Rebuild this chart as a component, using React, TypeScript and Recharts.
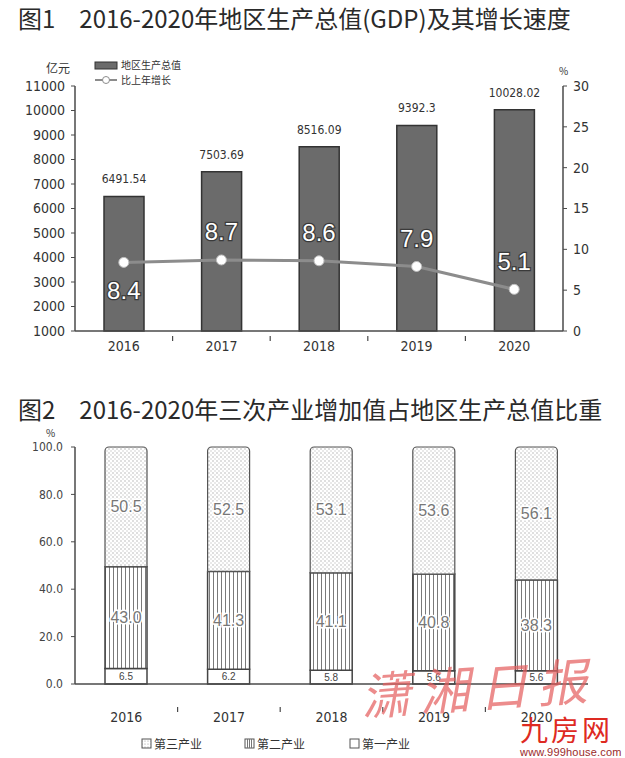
import React from "react";
import {
  ComposedChart,
  BarChart,
  Bar,
  Line,
  XAxis,
  YAxis,
  LabelList,
} from "recharts";

// 图1 data
const years = ["2016", "2017", "2018", "2019", "2020"];
const gdpValues = [6491.54, 7503.69, 8516.09, 9392.3, 10028.02];
const gdpLabels = ["6491.54", "7503.69", "8516.09", "9392.3", "10028.02"];
const growthRates = [8.4, 8.7, 8.6, 7.9, 5.1];
const gdpTicks = [1000, 2000, 3000, 4000, 5000, 6000, 7000, 8000, 9000, 10000, 11000];
const growthTicks = [0, 5, 10, 15, 20, 25, 30];

// 图2 data
const tertiaryShare = [50.5, 52.5, 53.1, 53.6, 56.1];
const secondaryShare = [43.0, 41.3, 41.1, 40.8, 38.3];
const primaryShare = [6.5, 6.2, 5.8, 5.6, 5.6];
const shareTicks = [0, 20, 40, 60, 80, 100];

const gdpData = years.map((y, i) => ({
  year: y,
  gdp: gdpValues[i],
  gdpLabel: gdpLabels[i],
  growth: growthRates[i],
}));

const shareData = years.map((y, i) => ({
  year: y,
  primary: primaryShare[i],
  secondary: secondaryShare[i],
  tertiary: tertiaryShare[i],
}));

const NUM_FONT = "'DejaVu Sans Condensed', 'DejaVu Sans', sans-serif";
const CJK_FONT = "'Noto Sans CJK SC', sans-serif";
const AXIS = "#4a4a4a";

// category label plus a small upward tick at the left band boundary
function YearTick(props: any) {
  const { x, y, payload, index, tickMargin } = props;
  const axisY = y - (tickMargin || 0);
  const half = payload && payload.offset ? payload.offset : 0;
  return (
    <g>
      {index > 0 && half > 0 && (
        <line x1={x - half} x2={x - half} y1={axisY} y2={axisY - 5} stroke={AXIS} strokeWidth={1.2} />
      )}
      <text
        x={x}
        y={y}
        dy="0.71em"
        textAnchor="middle"
        fontSize={14}
        fontFamily={NUM_FONT}
        fill="#333"
      >
        {payload.value}
      </text>
    </g>
  );
}

function GrowthLabel(props: any) {
  const { x, y, value, index } = props;
  const dy = index === 0 ? 28 : -28;
  return (
    <text
      x={x}
      y={y + dy}
      textAnchor="middle"
      dominantBaseline="central"
      fontSize={24}
      fontFamily="'Liberation Sans', Arial, sans-serif"
      fill="#ffffff"
      stroke="#3a3a3a"
      strokeWidth={2.5}
      paintOrder="stroke"
    >
      {Number(value).toFixed(1)}
    </text>
  );
}

function ShareLabel(props: any) {
  const { x, y, width, height, value, small } = props;
  return (
    <text
      x={x + width / 2}
      y={y + height / 2}
      textAnchor="middle"
      dominantBaseline="central"
      fontSize={small ? 10 : 16}
      fontFamily="'Liberation Sans', Arial, sans-serif"
      fill={small ? "#444" : "#777"}
      stroke="#fff"
      strokeWidth={small ? 2 : 3}
      paintOrder="stroke"
    >
      {Number(value).toFixed(1)}
    </text>
  );
}

function GdpChart() {
  return (
    <div style={{ position: "absolute", left: 0, top: 0 }}>
      <ComposedChart
        width={625}
        height={365}
        data={gdpData}
        margin={{ top: 86, right: 0, bottom: 4, left: 0 }}
      >
        <XAxis
          dataKey="year"
          height={30}
          tickSize={0}
          tickMargin={10}
          tick={<YearTick />}
          axisLine={{ stroke: AXIS, strokeWidth: 1.5 }}
          tickLine={false}
        />
        <YAxis
          yAxisId="left"
          width={75}
          domain={[1000, 11000]}
          ticks={gdpTicks}
          interval={0}
          tickSize={4}
          tickMargin={6}
          axisLine={{ stroke: AXIS, strokeWidth: 1.5 }}
          tickLine={{ stroke: AXIS }}
          tick={{ fontSize: 14, fontFamily: NUM_FONT, fill: "#333" }}
        />
        <YAxis
          yAxisId="right"
          orientation="right"
          width={62}
          domain={[0, 30]}
          ticks={growthTicks}
          interval={0}
          tickSize={4}
          tickMargin={6}
          axisLine={{ stroke: AXIS, strokeWidth: 1.5 }}
          tickLine={{ stroke: AXIS }}
          tick={{ fontSize: 14, fontFamily: NUM_FONT, fill: "#333" }}
        />
        <Bar
          yAxisId="left"
          dataKey="gdp"
          barSize={40}
          fill="#6b6b6b"
          stroke="#333"
          strokeWidth={1.5}
          isAnimationActive={false}
        >
          <LabelList
            dataKey="gdpLabel"
            position="top"
            offset={13}
            style={{ fontSize: 12, fontFamily: NUM_FONT, fill: "#333" }}
          />
        </Bar>
        <Line
          yAxisId="right"
          dataKey="growth"
          stroke="#8c8c8c"
          strokeWidth={3}
          dot={{ r: 5, fill: "#ffffff", stroke: "#bdbdbd", strokeWidth: 1 }}
          activeDot={false}
          isAnimationActive={false}
        >
          <LabelList dataKey="growth" content={<GrowthLabel />} />
        </Line>
      </ComposedChart>
    </div>
  );
}

function ShareChart() {
  return (
    <div style={{ position: "absolute", left: 0, top: 400 }}>
      <BarChart
        width={625}
        height={324}
        data={shareData}
        margin={{ top: 47, right: 37, bottom: 0, left: 0 }}
      >
        <defs>
          <pattern id="dotFill" width="4" height="4" patternUnits="userSpaceOnUse">
            <rect width="4" height="4" fill="#ffffff" />
            <circle cx="1" cy="1" r="0.7" fill="#a8a8a8" />
            <circle cx="3" cy="3" r="0.7" fill="#c4c4c4" />
          </pattern>
          <pattern id="stripeFill" width="4" height="4" patternUnits="userSpaceOnUse">
            <rect width="4" height="4" fill="#ffffff" />
            <line x1="1.5" y1="0" x2="1.5" y2="4" stroke="#7a7a7a" strokeWidth="1" />
          </pattern>
        </defs>
        <XAxis
          dataKey="year"
          height={40}
          tickSize={0}
          tickMargin={28}
          tick={<YearTick />}
          axisLine={{ stroke: AXIS, strokeWidth: 1.5 }}
          tickLine={false}
        />
        <YAxis
          width={75}
          domain={[0, 100]}
          ticks={shareTicks}
          interval={0}
          tickSize={4}
          tickMargin={8}
          axisLine={{ stroke: AXIS, strokeWidth: 1.5 }}
          tickLine={{ stroke: AXIS }}
          tickFormatter={(v: number) => v.toFixed(1)}
          tick={{ fontSize: 12, fontFamily: NUM_FONT, fill: "#444" }}
        />
        <Bar
          dataKey="primary"
          stackId="s"
          barSize={42}
          fill="#ffffff"
          stroke="#444"
          strokeWidth={1.5}
          isAnimationActive={false}
        >
          <LabelList dataKey="primary" content={<ShareLabel small />} />
        </Bar>
        <Bar
          dataKey="secondary"
          stackId="s"
          barSize={42}
          fill="url(#stripeFill)"
          stroke="#444"
          strokeWidth={1.5}
          isAnimationActive={false}
        >
          <LabelList dataKey="secondary" content={<ShareLabel />} />
        </Bar>
        <Bar
          dataKey="tertiary"
          stackId="s"
          barSize={42}
          fill="url(#dotFill)"
          stroke="#555"
          strokeWidth={1.2}
          radius={[4, 4, 0, 0]}
          isAnimationActive={false}
        >
          <LabelList dataKey="tertiary" content={<ShareLabel />} />
        </Bar>
      </BarChart>
    </div>
  );
}

const smallCjk: React.CSSProperties = {
  position: "absolute",
  fontFamily: CJK_FONT,
  color: "#333",
  whiteSpace: "nowrap",
  lineHeight: 1,
};

export default function App() {
  return (
    <div
      style={{
        position: "absolute",
        left: 0,
        top: 0,
        width: 625,
        height: 758,
        background: "#ffffff",
        overflow: "hidden",
      }}
    >
      <div
        style={{
          ...smallCjk,
          left: 18,
          top: 6,
          fontSize: 24,
          fontWeight: 400,
          color: "#2a2a2a",
        }}
      >
        图1　2016-2020年地区生产总值(GDP)及其增长速度
      </div>
      <div style={{ ...smallCjk, left: 46, top: 62, fontSize: 12 }}>亿元</div>
      <div style={{ ...smallCjk, left: 559, top: 66, fontSize: 10 }}>%</div>

      {/* legend of 图1 */}
      <div style={{ position: "absolute", left: 94, top: 58 }}>
        <svg width={26} height={30} style={{ position: "absolute", left: 0, top: 0 }}>
          <rect x={1} y={4} width={22} height={7} fill="#6b6b6b" stroke="#333" strokeWidth={1} />
          <line x1={1} x2={23} y1={22} y2={22} stroke="#8c8c8c" strokeWidth={2} />
          <circle cx={12} cy={22} r={3.5} fill="#fff" stroke="#8c8c8c" strokeWidth={1} />
        </svg>
        <div style={{ ...smallCjk, left: 27, top: 2, fontSize: 10 }}>地区生产总值</div>
        <div style={{ ...smallCjk, left: 27, top: 17, fontSize: 10 }}>比上年增长</div>
      </div>

      <GdpChart />

      <div
        style={{
          ...smallCjk,
          left: 18,
          top: 397,
          fontSize: 24,
          fontWeight: 400,
          color: "#2a2a2a",
        }}
      >
        图2　2016-2020年三次产业增加值占地区生产总值比重
      </div>
      <div style={{ ...smallCjk, left: 46, top: 428, fontSize: 10 }}>%</div>

      <ShareChart />

      {/* legend of 图2 */}
      <div style={{ position: "absolute", left: 141, top: 737 }}>
        <svg width={300} height={14} style={{ position: "absolute", left: 0, top: 0 }}>
          <defs>
            <pattern id="dotFillLegend" width="3" height="3" patternUnits="userSpaceOnUse">
              <rect width="3" height="3" fill="#fff" />
              <circle cx="1" cy="1" r="0.6" fill="#999" />
            </pattern>
          </defs>
          <rect x={1} y={2} width={9} height={9} fill="url(#dotFillLegend)" stroke="#555" />
          <rect x={104} y={2} width={9} height={9} fill="#fff" stroke="#555" />
          <line x1={106.5} x2={106.5} y1={2} y2={11} stroke="#777" />
          <line x1={108.5} x2={108.5} y1={2} y2={11} stroke="#777" />
          <line x1={110.5} x2={110.5} y1={2} y2={11} stroke="#777" />
          <rect x={209} y={2} width={9} height={9} fill="#fff" stroke="#555" />
        </svg>
        <div style={{ ...smallCjk, left: 13, top: 1, fontSize: 12 }}>第三产业</div>
        <div style={{ ...smallCjk, left: 116, top: 1, fontSize: 12 }}>第二产业</div>
        <div style={{ ...smallCjk, left: 221, top: 1, fontSize: 12 }}>第一产业</div>
      </div>

      {/* watermark */}
      <div
        style={{
          ...smallCjk,
          left: 360,
          top: 660,
          fontSize: 50,
          fontStyle: "italic",
          fontWeight: 400,
          color: "rgba(228, 95, 95, 0.72)",
          transform: "rotate(-4deg)",
          letterSpacing: 9,
        }}
      >
        潇湘日报
      </div>
      <div
        style={{
          ...smallCjk,
          left: 520,
          top: 715,
          fontSize: 28,
          color: "#de2a22",
          letterSpacing: 3,
        }}
      >
        九房网
      </div>
      <div
        style={{
          ...smallCjk,
          left: 520,
          top: 747,
          fontSize: 11,
          fontFamily: "'Liberation Sans', Arial, sans-serif",
          color: "#9a2a2a",
          letterSpacing: 0.2,
        }}
      >
        www.999house.com
      </div>
    </div>
  );
}
